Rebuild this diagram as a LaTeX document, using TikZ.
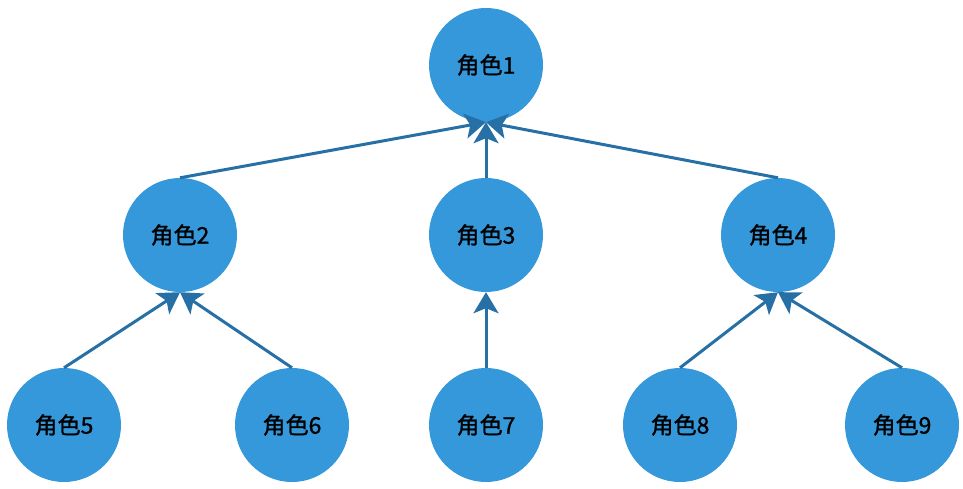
\documentclass[tikz,border=0pt]{standalone}
\usepackage{fontspec}
\newfontfamily\cjk[FakeBold=1.1]{Noto Sans CJK SC}
\usetikzlibrary{arrows.meta}
\definecolor{nodeblue}{RGB}{53,152,219}
\definecolor{edgeblue}{RGB}{38,112,166}
\begin{document}
\begin{tikzpicture}[x=1pt,y=-1pt,
  role/.style={circle,fill=nodeblue,minimum size=114pt,inner sep=0pt,font=\cjk\fontsize{23}{23}\selectfont,text=black},
  link/.style={draw=edgeblue,line width=3pt,-{Stealth[length=21pt,width=25pt,inset=5pt]}}]
\useasboundingbox (0,0) rectangle (963,489);
\node[role] (r1) at (486,65) {角色1};
\node[role] (r2) at (180,235) {角色2};
\node[role] (r3) at (486,235) {角色3};
\node[role] (r4) at (778,235) {角色4};
\node[role] (r5) at (64,425) {角色5};
\node[role] (r6) at (292,425) {角色6};
\node[role] (r7) at (486,425) {角色7};
\node[role] (r8) at (680,425) {角色8};
\node[role] (r9) at (902,425) {角色9};
\draw[link] (r2.north) -- (r1.south);
\draw[link] (r3.north) -- (r1.south);
\draw[link] (r4.north) -- (r1.south);
\draw[link] (r5.north) -- (r2.south);
\draw[link] (r6.north) -- (r2.south);
\draw[link] (r7.north) -- (r3.south);
\draw[link] (r8.north) -- (r4.south);
\draw[link] (r9.north) -- (r4.south);
\end{tikzpicture}
\end{document}
